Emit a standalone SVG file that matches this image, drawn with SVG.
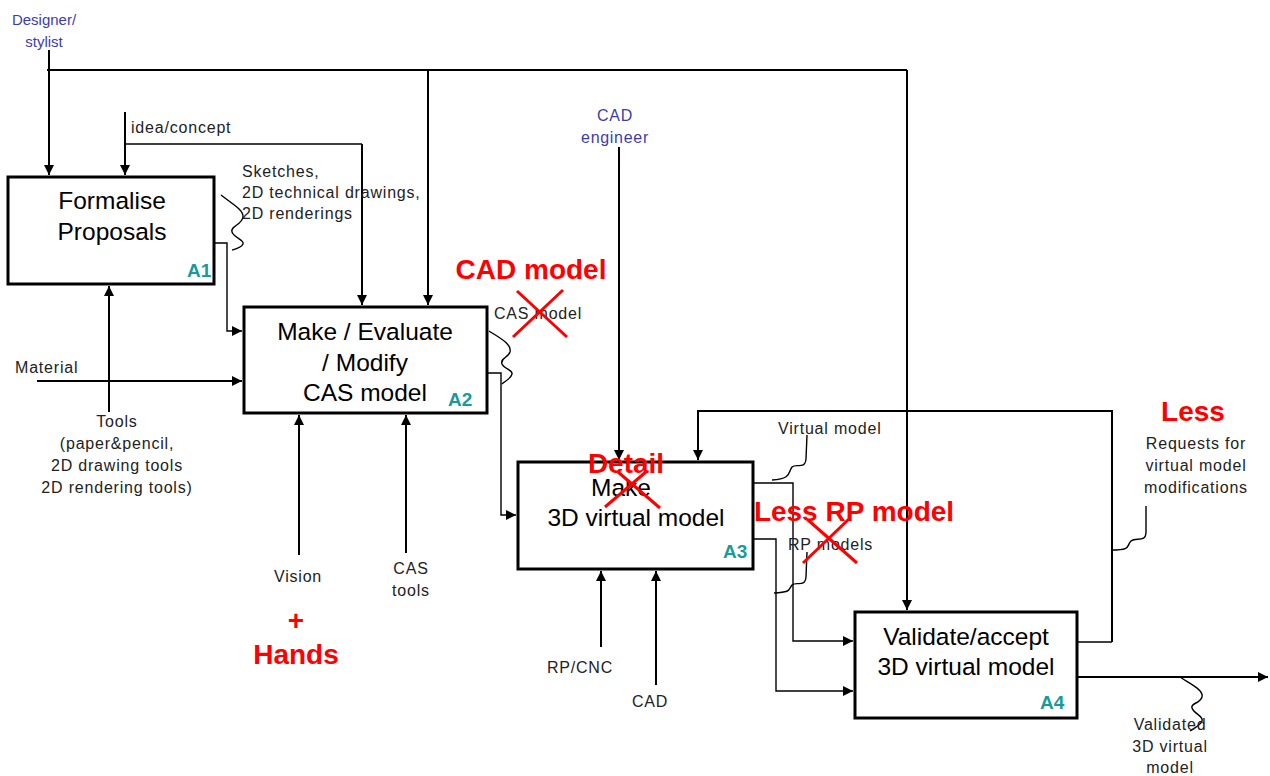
<svg xmlns="http://www.w3.org/2000/svg" width="1270" height="776" viewBox="0 0 1270 776">
<style>
  .box{fill:#fff;stroke:#000;stroke-width:3}
  .ln{fill:none;stroke:#000;stroke-width:2}
  .thin{fill:none;stroke:#000;stroke-width:1.4}
  .sq{fill:none;stroke:#000;stroke-width:1.4}
  text{font-family:"Liberation Sans",Arial,sans-serif}
  .t{font-size:16px;fill:#222;letter-spacing:0.8px}
  .tb{font-size:15px;fill:#3d3daa}
  .tb2{font-size:16px;fill:#3d3daa;letter-spacing:0.7px}
  .n{font-size:24.5px;fill:#000}
  .id{font-size:19px;fill:#1a9a9a;font-weight:bold}
  .red{fill:#ff0000;font-weight:bold;font-size:28px}
  .x{stroke:#ff0000;stroke-width:3;fill:none}
</style>
<defs>
  <marker id="ah" markerWidth="10" markerHeight="10" refX="10" refY="5" orient="auto" markerUnits="userSpaceOnUse">
    <path d="M0,0 L10,5 L0,10 z" fill="#000"/>
  </marker>
</defs>
<rect width="1270" height="776" fill="#fff"/>

<g id="connectors">
  <path class="ln" d="M49,50 V175" marker-end="url(#ah)"/>
  <path class="ln" d="M47,70 H907"/>
  <path class="ln" d="M428,70 V305" marker-end="url(#ah)"/>
  <path class="ln" d="M907,70 V610" marker-end="url(#ah)"/>
  <path class="ln" d="M125,112 V175" marker-end="url(#ah)"/>
  <path class="thin" d="M125,144 H362"/>
  <path class="ln" d="M362,144 V305" marker-end="url(#ah)"/>
  <path class="thin" d="M214,243 H227 V331 H242" marker-end="url(#ah)"/>
  <path class="sq" d="M221,195 C232,204 244,210 243,217 C242,225 230,226 232,232 C234,238 245,240 243,244 C241,248 236,249 232,250"/>
  <path class="ln" d="M109,412 V286" marker-end="url(#ah)"/>
  <path class="ln" d="M37,381 H242" marker-end="url(#ah)"/>
  <path class="ln" d="M299,555 V415" marker-end="url(#ah)"/>
  <path class="ln" d="M406,553 V415" marker-end="url(#ah)"/>
  <path class="thin" d="M487,373 H501 V515 H516" marker-end="url(#ah)"/>
  <path class="sq" d="M489,331 C500,338 512,344 510,352 C508,358 500,358 502,364 C504,369 513,370 512,374 C511,379 505,381 502,384"/>
  <path class="ln" d="M619,147 V460" marker-end="url(#ah)"/>
  <path class="ln" d="M601,647 V571" marker-end="url(#ah)"/>
  <path class="ln" d="M656,685 V571" marker-end="url(#ah)"/>
  <path class="ln" d="M1112,642 V411 H698 V460" marker-end="url(#ah)"/>
  <path class="thin" d="M1078,642 H1112"/>
  <path class="thin" d="M753,483 H793 V641 H853" marker-end="url(#ah)"/>
  <path class="thin" d="M753,539 H776 V691 H853" marker-end="url(#ah)"/>
  <path class="ln" d="M1078,677 H1268" marker-end="url(#ah)"/>
  <path class="sq" d="M807,435 L806,459 C805,470 796,463 792,467 C788,472 792,479 772,480"/>
  <path class="sq" d="M807,552 L806,577 C805,588 796,581 792,585 C788,590 792,592 774,593"/>
  <path class="sq" d="M1146,506 L1146,532 C1146,543 1136,537 1131,541 C1126,546 1132,550 1112,550"/>
  <path class="sq" d="M1180,677 C1190,684 1204,690 1202,697 C1200,704 1190,703 1192,708 C1194,714 1204,716 1202,721 C1200,726 1194,728 1190,731"/>
</g>

<g id="A1">
  <rect class="box" x="8" y="177" width="206" height="107"/>
  <text class="n" x="112" y="209" text-anchor="middle">Formalise</text>
  <text class="n" x="112" y="240" text-anchor="middle">Proposals</text>
  <text class="id" x="187" y="277">A1</text>
</g>

<g id="A2">
  <rect class="box" x="244" y="307" width="243" height="106"/>
  <text class="n" x="365" y="340" text-anchor="middle">Make / Evaluate</text>
  <text class="n" x="365" y="371" text-anchor="middle">/ Modify</text>
  <text class="n" x="365" y="401" text-anchor="middle">CAS model</text>
  <text class="id" x="448" y="406">A2</text>
</g>

<g id="A3">
  <rect class="box" x="518" y="462" width="235" height="107"/>
  <text class="n" x="621" y="496" text-anchor="middle">Make</text>
  <text class="n" x="636" y="526" text-anchor="middle">3D virtual model</text>
  <text class="id" x="723" y="558">A3</text>
</g>

<g id="A4">
  <rect class="box" x="855" y="612" width="222" height="106"/>
  <text class="n" x="966" y="645" text-anchor="middle">Validate/accept</text>
  <text class="n" x="966" y="675" text-anchor="middle">3D virtual model</text>
  <text class="id" x="1040" y="709">A4</text>
</g>

<g id="labels">
  <text class="tb" x="44" y="25" text-anchor="middle">Designer/</text>
  <text class="tb" x="44" y="47" text-anchor="middle">stylist</text>
  <text class="t" x="131" y="133">idea/concept</text>
  <text class="t" x="242" y="177">Sketches,</text>
  <text class="t" x="242" y="198">2D technical drawings,</text>
  <text class="t" x="242" y="219">2D renderings</text>
  <text class="t" x="15" y="373">Material</text>
  <text class="t" x="117" y="427" text-anchor="middle">Tools</text>
  <text class="t" x="117" y="449" text-anchor="middle">(paper&amp;pencil,</text>
  <text class="t" x="117" y="471" text-anchor="middle">2D drawing tools</text>
  <text class="t" x="117" y="493" text-anchor="middle">2D rendering tools)</text>
  <text class="t" x="298" y="582" text-anchor="middle">Vision</text>
  <text class="t" x="411" y="574" text-anchor="middle">CAS</text>
  <text class="t" x="411" y="596" text-anchor="middle">tools</text>
  <text class="red" x="296" y="630" text-anchor="middle">+</text>
  <text class="red" x="296" y="664" text-anchor="middle">Hands</text>
  <text class="tb2" x="615" y="121" text-anchor="middle">CAD</text>
  <text class="tb2" x="615" y="143" text-anchor="middle">engineer</text>
  <text class="red" x="531" y="279" text-anchor="middle">CAD model</text>
  <text class="t" x="494" y="319">CAS model</text>
  <path class="x" d="M513,337 L563,290 M517,291 L567,337"/>
  <text class="red" x="626" y="473" text-anchor="middle">Detail</text>
  <path class="x" d="M605,507 L647,471 M618,472 L660,508"/>
  <text class="t" x="778" y="434">Virtual model</text>
  <text class="red" x="854" y="521" text-anchor="middle">Less RP model</text>
  <text class="t" x="788" y="550">RP models</text>
  <path class="x" d="M803,563 L850,518 M808,520 L857,563"/>
  <text class="red" x="1193" y="421" text-anchor="middle">Less</text>
  <text class="t" x="1196" y="449" text-anchor="middle">Requests for</text>
  <text class="t" x="1196" y="471" text-anchor="middle">virtual model</text>
  <text class="t" x="1196" y="493" text-anchor="middle">modifications</text>
  <text class="t" x="580" y="673" text-anchor="middle">RP/CNC</text>
  <text class="t" x="650" y="707" text-anchor="middle">CAD</text>
  <text class="t" x="1170" y="730" text-anchor="middle">Validated</text>
  <text class="t" x="1170" y="752" text-anchor="middle">3D virtual</text>
  <text class="t" x="1170" y="773" text-anchor="middle">model</text>
</g>
</svg>
